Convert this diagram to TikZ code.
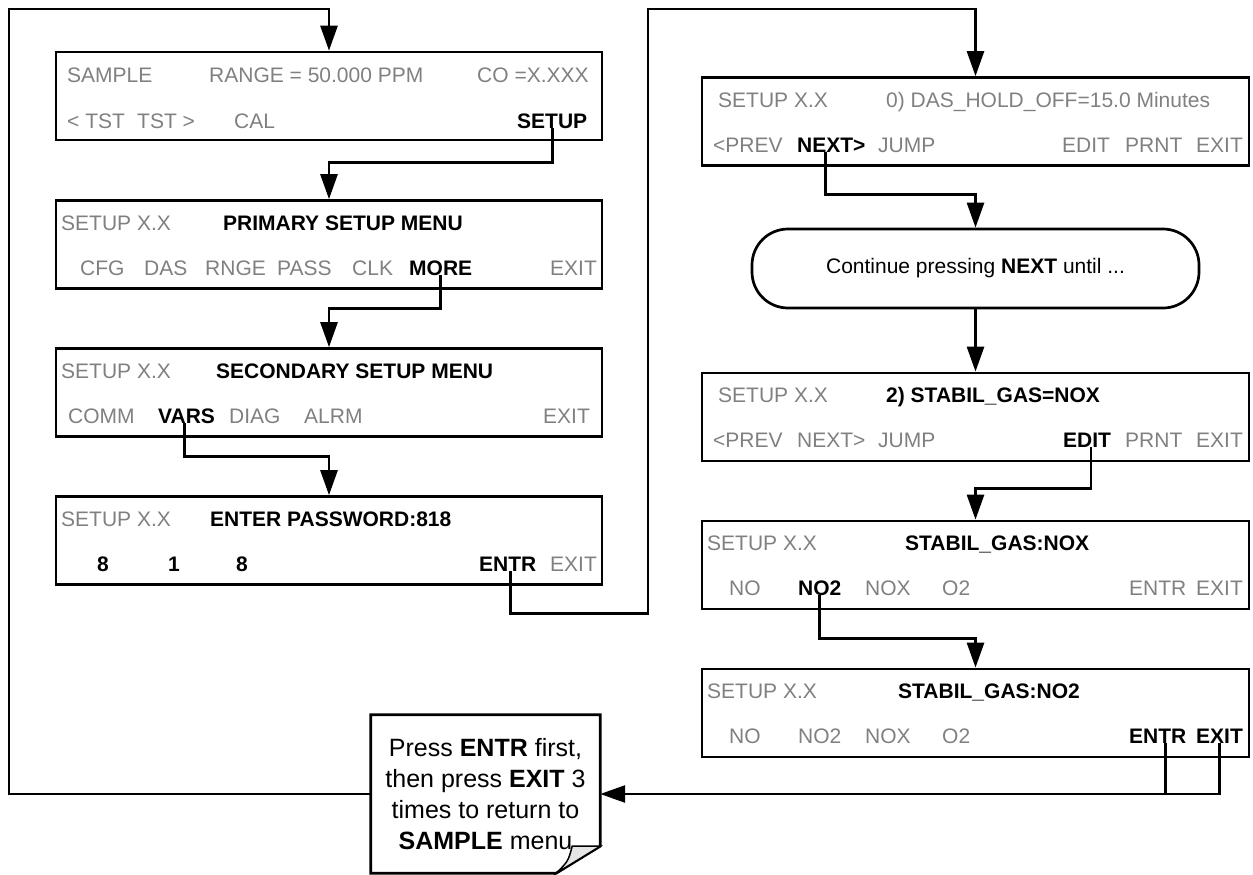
\documentclass[tikz,border=0pt]{standalone}
\usepackage{fontspec}
\setmainfont{Liberation Sans}
\usetikzlibrary{arrows.meta,positioning}
\definecolor{lcdgray}{RGB}{128,128,128}
\newcommand{\lcdsize}{\fontsize{21}{25}\selectfont}
\tikzset{screen/.style={draw,line width=2.7pt,minimum height=88pt,inner sep=0pt},
lbox/.style={screen,minimum width=546pt},
rbox/.style={screen,minimum width=547pt},
soft/.style={anchor=base west,inner sep=0pt,text=lcdgray,font=\lcdsize},
key/.style={anchor=base west,inner sep=0pt,font=\lcdsize\bfseries},
flow/.style={line width=2.7pt}}

\begin{document}
\begin{tikzpicture}[x=1pt, y=-1pt, >={Triangle[length=25pt,width=17pt]}]
\useasboundingbox (0,0) rectangle (1253,875);
% left column screens
\node[lbox] (S1) at (329,96) {};
\node[lbox] (S2) at (329,244.5) {};
\node[lbox] (S3) at (329,392.5) {};
\node[lbox] (S4) at (329,540.5) {};
% right column screens
\node[rbox] (S5) at (975.5,121.5) {};
\node[draw, line width=2.7pt, rounded corners=36pt, minimum width=447pt, minimum height=79pt, font=\lcdsize] (R) at (975.5,268.5) {Continue pressing \textbf{NEXT} until ...};
\node[rbox] (S6) at (975.5,417) {};
\node[rbox] (S7) at (975.5,565) {};
\node[rbox] (S8) at (975.5,713) {};
% SAMPLE screen
\node[soft] (a1) at (67,82) {SAMPLE};
\node[soft] (a2) at (209,82) {RANGE = 50.000 PPM};
\node[soft] (a3) at (477,82) {CO =X.XXX};
\node[soft] (a4) at (67,128) {< TST};
\node[soft] (a5) at (137,128) {TST >};
\node[soft] (a6) at (234,128) {CAL};
\node[key] (kSetup) at (517,128) {SETUP};
% primary setup menu
\node[soft] (b1) at (61,230) {SETUP X.X};
\node[key] (b2) at (223,230) {PRIMARY SETUP MENU};
\node[soft] (b3) at (80,275) {CFG};
\node[soft] (b4) at (144,275) {DAS};
\node[soft] (b5) at (205,275) {RNGE};
\node[soft] (b6) at (277,275) {PASS};
\node[soft] (b7) at (352,275) {CLK};
\node[key] (kMore) at (409,275) {MORE};
\node[soft] (b8) at (550,275) {EXIT};
% secondary setup menu
\node[soft] (c1) at (61,378) {SETUP X.X};
\node[key] (c2) at (216,378) {SECONDARY SETUP MENU};
\node[soft] (c3) at (68,423) {COMM};
\node[key] (kVars) at (158,423) {VARS};
\node[soft] (c4) at (229,423) {DIAG};
\node[soft] (c5) at (304,423) {ALRM};
\node[soft] (c6) at (543,423) {EXIT};
% password
\node[soft] (d1) at (61,526) {SETUP X.X};
\node[key] (d2) at (210,526) {ENTER PASSWORD:818};
\node[key] (d3) at (97,571) {8};
\node[key] (d4) at (168,571) {1};
\node[key] (d5) at (236,571) {8};
\node[key] (kEntrA) at (479,571) {ENTR};
\node[soft] (d6) at (550,571) {EXIT};
% DAS_HOLD_OFF
\node[soft] (e1) at (718,107) {SETUP X.X};
\node[soft] (e2) at (886,107) {0) DAS\_HOLD\_OFF=15.0 Minutes};
\node[soft] (e3) at (713,152) {<PREV};
\node[key] (kNext) at (797,152) {NEXT>};
\node[soft] (e4) at (878,152) {JUMP};
\node[soft] (e5) at (1062,152) {EDIT};
\node[soft] (e6) at (1125,152) {PRNT};
\node[soft] (e7) at (1196,152) {EXIT};
% STABIL_GAS=NOX
\node[soft] (f1) at (718,402) {SETUP X.X};
\node[key] (f2) at (886,402) {2) STABIL\_GAS=NOX};
\node[soft] (f3) at (713,447) {<PREV};
\node[soft] (f4) at (797,447) {NEXT>};
\node[soft] (f5) at (878,447) {JUMP};
\node[key] (kEdit) at (1063,447) {EDIT};
\node[soft] (f6) at (1125,447) {PRNT};
\node[soft] (f7) at (1196,447) {EXIT};
% STABIL_GAS:NOX
\node[soft] (g1) at (707,550) {SETUP X.X};
\node[key] (g2) at (905,550) {STABIL\_GAS:NOX};
\node[soft] (g3) at (729,595) {NO};
\node[key] (kNotwo) at (798,595) {NO2};
\node[soft] (g4) at (865,595) {NOX};
\node[soft] (g5) at (942,595) {O2};
\node[soft] (g6) at (1129,595) {ENTR};
\node[soft] (g7) at (1196,595) {EXIT};
% STABIL_GAS:NO2
\node[soft] (h1) at (707,698) {SETUP X.X};
\node[key] (h2) at (898,698) {STABIL\_GAS:NO2};
\node[soft] (h3) at (729,743) {NO};
\node[soft] (h4) at (798,743) {NO2};
\node[soft] (h5) at (865,743) {NOX};
\node[soft] (h6) at (942,743) {O2};
\node[key] (kEntrB) at (1129,743) {ENTR};
\node[key] (kExit) at (1196,743) {EXIT};
% note with folded corner
\node[inner sep=0pt, minimum width=229pt, minimum height=158pt, align=center, font=\fontsize{25}{31}\selectfont] (N) at (485.5,794) {Press \textbf{ENTR} first,\\then press \textbf{EXIT} 3\\times to return to\\\textbf{SAMPLE} menu};
\draw[flow] (N.north west) -- (N.north east) -- ([yshift=27pt]N.south east) -- ([xshift=-44pt]N.south east) -- (N.south west) -- cycle;
\filldraw[fill=gray!20, line width=1.5pt] ([yshift=27pt]N.south east) -- ([xshift=-28pt,yshift=27pt]N.south east) .. controls ([xshift=-32pt,yshift=12pt]N.south east) .. ([xshift=-44pt]N.south east) -- cycle;
% connectors
\coordinate (t1) at (9,9);
\coordinate (t2) at (648,9);
\draw[flow,->] (N.west) -| (t1) -| (S1.north);
\draw[flow,->] (kSetup.south) -- ++(0,34) -| (S2.north);
\draw[flow,->] (kMore.south) -- ++(0,33) -| (S3.north);
\draw[flow,->] ([xshift=-2pt]kVars.south) -- ++(0,33) -| (S4.north);
\draw[flow,->] ([xshift=3pt]kEntrA.south) -- ++(0,42) -| (t2) -| (S5.north);
\draw[flow,->] ([xshift=-6pt]kNext.south) -- ++(0,42) -| (R.north);
\draw[flow,->] (R.south) -- (S6.north);
\draw[flow,->] ([xshift=4pt]kEdit.south) -- ++(0,41) -| (S7.north);
\draw[flow,->] (kNotwo.south) -- ++(0,43) -| (S8.north);
\draw[flow] ([xshift=8pt]kEntrB.south) -- ++(0,51);
\draw[flow,->] (kExit.south) |- (N.east);
\end{tikzpicture}
\end{document}
